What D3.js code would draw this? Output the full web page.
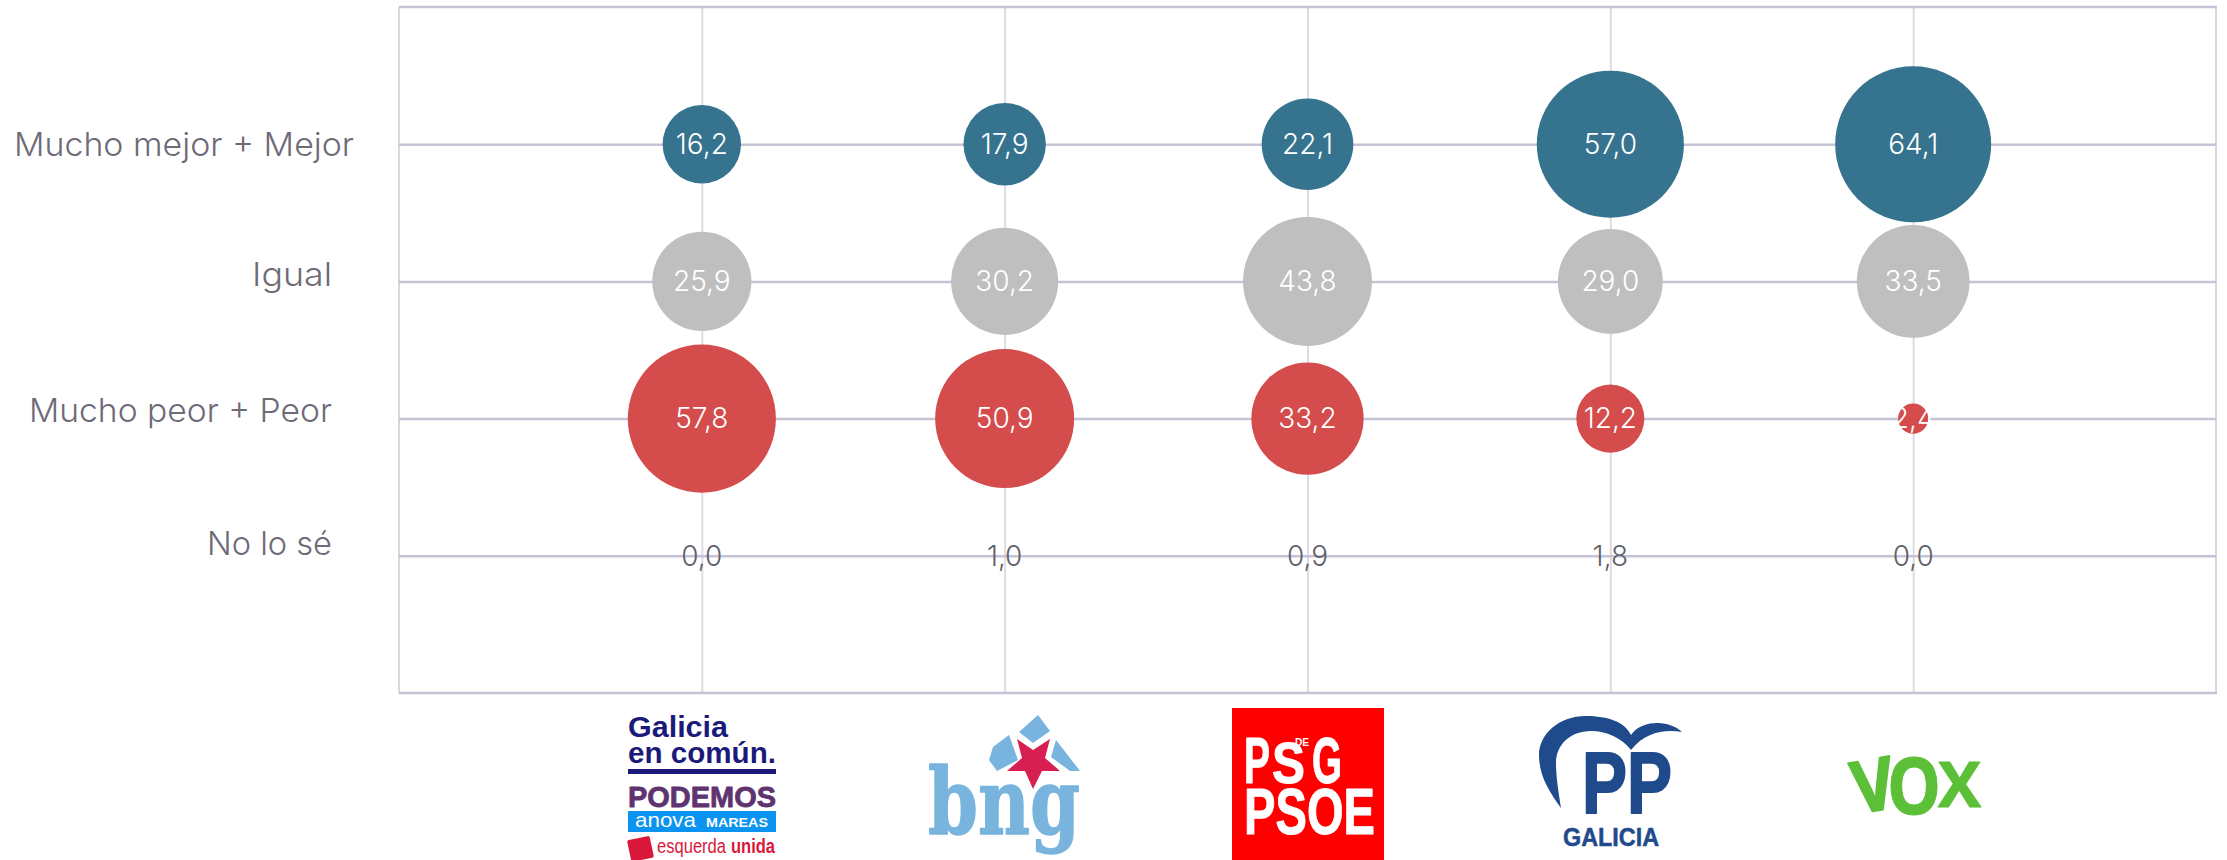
<!DOCTYPE html>
<html>
<head>
<meta charset="utf-8">
<script src="https://cdn.jsdelivr.net/npm/d3@7"></script>
<style>
  html, body { margin: 0; padding: 0; background: #fff; }
  svg { display: block; }
</style>
</head>
<body>
<div id="chart"></div>
<script>
// datos
const partidos = ['Galicia en común', 'BNG', 'PSdeG-PSOE', 'PP', 'VOX']
const categorias = ['Mucho mejor + Mejor', 'Igual', 'Mucho peor + Peor', 'No lo sé']
const mejor = [16.2, 17.9, 22.1, 57.0, 64.1]
const igual = [25.9, 30.2, 43.8, 29.0, 33.5]
const peor = [57.8, 50.9, 33.2, 12.2, 2.4]
const nose = [0.0, 1.0, 0.9, 1.8, 0.0]
const colores = ['#35738f', '#bfbfbf', '#d44c4c', '#bfbfbf']

const series = [mejor, igual, peor, nose]
const width = 2227
const height = 860
const plotLeft = 399, plotRight = 2216, plotTop = 7, plotBottom = 693
const fontFamily = 'Inter, "Open Sans", sans-serif'

const svg = d3.select('#chart')
  .append('svg')
  .attr('width', width)
  .attr('height', height)
  .attr('viewBox', [0, 0, width, height])
  .attr('font-family', fontFamily)

const x = d3.scalePoint().domain(partidos).range([plotLeft, plotRight]).padding(1)
const y = d3.scalePoint().domain(categorias).range([plotTop, plotBottom]).padding(1)
const r = d3.scaleSqrt().domain([0, 64.1]).range([0, 78])
const fmt = d3.formatLocale({ decimal: ',', thousands: '.', grouping: [3], currency: ['', '€'] }).format('.1f')

// rejilla vertical
const gridX = svg.append('g')
  .attr('transform', `translate(0,${plotBottom})`)
  .call(d3.axisBottom(x).tickSize(plotBottom - plotTop).tickFormat(''))
gridX.select('.domain').remove()
gridX.selectAll('.tick line')
  .attr('y2', -(plotBottom - plotTop))
  .attr('stroke', '#dcdce4')
  .attr('stroke-width', 2)

// marco
svg.append('g').selectAll('line')
  .data([plotLeft, plotRight])
  .join('line')
  .attr('x1', d => d).attr('x2', d => d)
  .attr('y1', plotTop).attr('y2', plotBottom)
  .attr('stroke', '#d8d8e2')
  .attr('stroke-width', 2)
svg.append('g').selectAll('line')
  .data([plotTop, plotBottom])
  .join('line')
  .attr('x1', plotLeft).attr('x2', plotRight + 1)
  .attr('y1', d => d).attr('y2', d => d)
  .attr('stroke', '#c4c4d6')
  .attr('stroke-width', 2.5)

// rejilla horizontal y etiquetas
const labelShift = { 'Mucho mejor + Mejor': [354, 0], 'Igual': [332, -7], 'Mucho peor + Peor': [332, -8], 'No lo sé': [332, -12] }
const labelWidth = { 'Mucho mejor + Mejor': 340, 'Igual': 80, 'Mucho peor + Peor': 303, 'No lo sé': 125 }
const gridY = svg.append('g')
  .attr('transform', `translate(${plotLeft},0)`)
  .call(d3.axisLeft(y).tickSize(-(plotRight - plotLeft)).tickPadding(0))
gridY.select('.domain').remove()
gridY.selectAll('.tick line')
  .attr('stroke', '#c4c4d6')
  .attr('stroke-width', 2.5)
gridY.selectAll('.tick text')
  .attr('x', d => labelShift[d][0] - plotLeft)
  .attr('dy', d => labelShift[d][1] + 11)
  .attr('text-anchor', 'end')
  .attr('font-family', fontFamily)
  .attr('font-size', 33)
  .attr('font-weight', 300)
  .attr('fill', '#6f6a78')
  .attr('textLength', d => labelWidth[d])
  .attr('lengthAdjust', 'spacingAndGlyphs')

// burbujas
const celdas = series.flatMap((valores, i) =>
  valores.map((v, j) => ({ partido: partidos[j], categoria: categorias[i], valor: v, color: colores[i], fila: i })))

svg.append('g').selectAll('circle')
  .data(celdas.filter(d => d.fila < 3))
  .join('circle')
  .attr('cx', d => x(d.partido))
  .attr('cy', d => y(d.categoria))
  .attr('r', d => r(d.valor))
  .attr('fill', d => d.color)

svg.append('g').selectAll('text')
  .data(celdas)
  .join('text')
  .attr('x', d => x(d.partido))
  .attr('y', d => y(d.categoria))
  .attr('dy', '.35em')
  .attr('text-anchor', 'middle')
  .attr('font-size', 28)
  .attr('font-weight', 300)
  .attr('fill', d => d.fila === 3 ? '#5f5f6a' : '#fff')
  .text(d => fmt(d.valor))

// logotipos de los partidos, dibujados a mano bajo el eje
const logos = svg.append('g').attr('class', 'logos')

function fitted(parent, txt, xPos, yPos, len, size, fill, weight, family, grosor) {
  return parent.append('text')
    .attr('x', xPos)
    .attr('y', yPos)
    .attr('font-size', size)
    .attr('font-weight', weight)
    .attr('font-family', family || '"Liberation Sans", sans-serif')
    .attr('fill', fill)
    .attr('stroke', grosor ? fill : 'none')
    .attr('stroke-width', grosor || 0)
    .attr('stroke-linejoin', 'round')
    .attr('textLength', len)
    .attr('lengthAdjust', 'spacingAndGlyphs')
    .text(txt)
}

// Galicia en común
const gc = logos.append('g')
fitted(gc, 'Galicia', 628, 737, 100, 29, '#1b1a7a', 700)
fitted(gc, 'en común.', 628, 763, 148, 29, '#1b1a7a', 700)
gc.append('rect').attr('x', 628).attr('y', 769).attr('width', 148).attr('height', 5).attr('fill', '#1b1a7a')
fitted(gc, 'PODEMOS', 628, 807, 148, 29, '#5e3370', 700, null, 0.8)
gc.append('rect').attr('x', 628).attr('y', 811).attr('width', 148).attr('height', 21).attr('fill', '#0a94f0')
fitted(gc, 'anova', 635, 827, 61, 21, '#fff', 400)
fitted(gc, 'MAREAS', 706, 827, 62, 13, '#fff', 700)
gc.append('rect').attr('x', 629).attr('y', 838).attr('width', 23).attr('height', 22).attr('rx', 2)
  .attr('transform', 'rotate(-12 640 849)').attr('fill', '#d9173a')
fitted(gc, 'esquerda', 657, 853, 69, 20, '#d9173a', 400)
fitted(gc, 'unida', 731, 853, 44, 20, '#d9173a', 700)

// BNG
const bng = logos.append('g')
const azulBng = '#78b4dd'
const pieza = d3.line()
bng.selectAll('path.pieza')
  .data([
    [[1038, 715], [1050, 731], [1033, 743], [1019, 732]],
    [[1009, 735], [1018, 760], [997, 771], [989, 760], [993, 747]],
    [[1056, 740], [1080, 771], [1070, 771], [1051, 757]]
  ])
  .join('path')
  .attr('d', d => pieza(d) + 'Z')
  .attr('fill', azulBng)
bng.append('path')
  .attr('d', pieza([[1017, 739], [1033, 750], [1050, 739], [1045, 758], [1060, 771], [1042, 771], [1033, 789], [1025, 771], [1007, 771], [1022, 758]]) + 'Z')
  .attr('fill', '#d81f52')
fitted(bng, 'bng', 928, 834, 152, 92, azulBng, 700, '"DejaVu Serif", serif', 1.5)

// PSdeG-PSOE
const ps = logos.append('g')
const narrow = '"Liberation Sans Narrow", "Liberation Sans", sans-serif'
ps.append('rect').attr('x', 1232).attr('y', 708).attr('width', 152).attr('height', 152).attr('fill', '#ff0000')
fitted(ps, 'P', 1244, 783, 26, 64, '#fff', 700, narrow, 1)
fitted(ps, 'S', 1272, 783, 33, 58, '#fff', 700, narrow, 1)
fitted(ps, 'DE', 1295, 746, 14, 11, '#fff', 700, narrow)
fitted(ps, 'G', 1312, 783, 30, 64, '#fff', 700, narrow, 1)
fitted(ps, 'PSOE', 1244, 834, 131, 64, '#fff', 700, narrow, 1)

// PP
const pp = logos.append('g')
const azulPp = '#1f4a8c'
pp.append('path')
  .attr('d', 'M1561,808 C1548,790 1539,775 1539,755 C1539,735 1558,716 1586,716 C1608,716 1625,722 1631,735 C1637,726 1648,723 1657,723 C1668,723 1677,727 1682,732 C1665,729 1645,732 1631,750 C1622,738 1606,731 1591,731 C1570,731 1556,745 1556,763 C1556,778 1559,795 1561,808 Z')
  .attr('fill', azulPp)
fitted(pp, 'PP', 1582, 813, 90, 87, azulPp, 700, '"Liberation Sans", sans-serif', 2)
fitted(pp, 'GALICIA', 1563, 846, 96, 26, azulPp, 700, narrow, 0.5)

// VOX
const vox = logos.append('g')
const verde = '#5cbf38'
const abierta = '"Open Sans", sans-serif'
fitted(vox, 'V', 1853, 811, 42, 72, verde, 700, abierta, 2).attr('transform', 'rotate(-10 1872 790)')
fitted(vox, 'O', 1887, 814, 54, 78, verde, 700, abierta, 1)
fitted(vox, 'X', 1938, 807, 43, 62, verde, 700, abierta, 1)
</script>
</body>
</html>
